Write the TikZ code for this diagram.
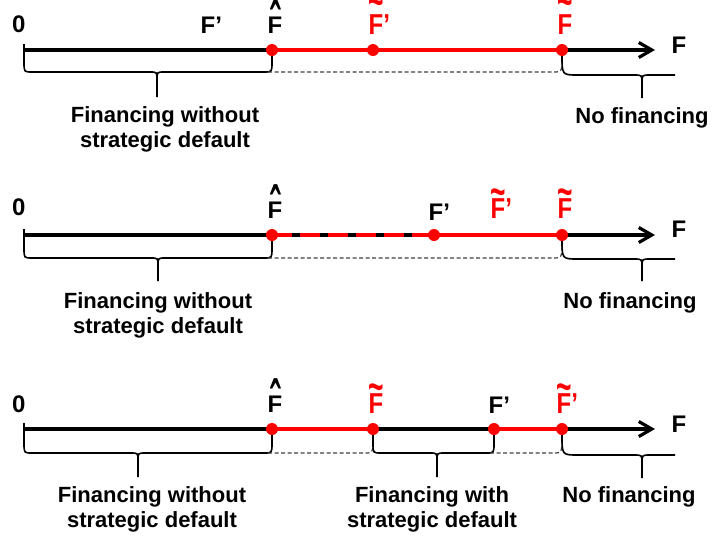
\documentclass[tikz,border=0pt]{standalone}
\usepackage{fontspec}
\setmainfont{Liberation Sans}
\usepackage{graphicx}
\usetikzlibrary{arrows.meta}

\newcommand{\hatF}{\ooalign{F\cr\hidewidth\raisebox{-12pt}{\scalebox{1.25}[2.56]{\char"02C6}}\hidewidth\cr}}
\newcommand{\redF}[1][11.8pt]{\ooalign{\scalebox{1}[1.2]{F}\cr\hidewidth\raisebox{#1}{\scalebox{1.1}[1.8]{\char"7E}}\hidewidth\cr}}
\newcommand{\redap}{\scalebox{1}[1.2]{’}}

\newcommand{\mybrace}[7]{%
  \draw[brc] (#1,#2) -- (#1,#6-10) .. controls (#1,#6) .. (#1+8,#6) -- (#5-7,#6) .. controls (#5,#6) .. (#5,#6+8) -- (#5,#7);
  \draw[brc] (#3,#4) -- (#3,#6-10) .. controls (#3,#6) .. (#3-8,#6) -- (#5+7,#6) .. controls (#5,#6) .. (#5,#6+8);
}
\newcommand{\nfbrace}[2]{% #1 ybot, #2 ytip ; starts below the last dot
  \draw[brc] (562,#1-20) .. controls (562,#1) .. (578,#1) -- (634,#1) .. controls (642,#1) .. (642,#1+8) -- (642,#2);
  \draw[brc] (675,#1) -- (650,#1) .. controls (642,#1) .. (642,#1+8);
}

\tikzset{
  lbl/.style={anchor=base west, inner sep=0pt, font=\fontsize{24}{28}\selectfont\bfseries},
  rlbl/.style={lbl, text=red},
  txt/.style={align=center, inner sep=0pt, anchor=base, font=\fontsize{22}{24.5}\selectfont\bfseries},
  axis/.style={line width=3.2pt},
  arr/.style={line width=3.2pt, -{Straight Barb[length=13pt,width=15pt]}},
  redseg/.style={line width=3.2pt, red},
  reddash/.style={line width=3.2pt, red, dash pattern=on 20pt off 8pt},
  dot/.style={circle, fill=red, inner sep=0pt, minimum size=12pt},
  brc/.style={line width=1.6pt},
  dsh/.style={line width=1.2pt, dash pattern=on 4pt off 2.5pt, black!75},
}

\begin{document}
\begin{tikzpicture}[x=1pt,y=-1pt]
\useasboundingbox (0,0) rectangle (712,539);

% ---------------- Panel 1 ----------------
\coordinate (s1) at (24,50);
\coordinate (h1) at (272,50);
\coordinate (tp1) at (373,50);
\coordinate (t1) at (562,50);
\coordinate (e1) at (655,50);
\draw[axis] (s1) -- (h1);
\draw[redseg] (h1) -- (t1);
\draw[arr] (t1) -- (e1);
\mybrace{24}{44}{272}{55}{157}{72}{97}
\draw[dsh] (268,72) -- (553,72) .. controls (562,72) .. (562,56);
\nfbrace{75}{98}
\node[dot] (dh1) at (h1) {};
\node[dot] (dtp1) at (tp1) {};
\node[dot] (dt1) at (t1) {};
\node[lbl] (z1) at (12,32) {0};
\node[lbl] (fp1) at (200.5,33) {F’};
\node[lbl] (fh1) at (267.5,33) {\hatF};
\node[rlbl] (ftp1) at (368.5,34) {\redF[17.8pt]\redap};
\node[rlbl] (ft1) at (557.5,34) {\redF[17.8pt]};
\node[lbl] (fa1) at (671.5,53) {F};
\node[txt] (w1) at (165,147) {Financing without\\strategic default};
\node[txt] (n1) at (642,123) {No financing};

% ---------------- Panel 2 ----------------
\coordinate (s2) at (24,235);
\coordinate (h2) at (272,235);
\coordinate (p2) at (434,235);
\coordinate (t2) at (562,235);
\coordinate (e2) at (655,235);
\draw[arr] (s2) -- (e2);
\draw[reddash] (h2) -- (p2);
\draw[redseg] (p2) -- (t2);
\mybrace{24}{229}{272}{240}{158}{258}{281}
\draw[dsh] (268,258) -- (553,258) .. controls (562,258) .. (562,241);
\nfbrace{259}{281}
\node[dot] (dh2) at (h2) {};
\node[dot] (dp2) at (p2) {};
\node[dot] (dt2) at (t2) {};
\node[lbl] (z2) at (12,215) {0};
\node[lbl] (fh2) at (267.5,218) {\hatF};
\node[lbl] (fp2) at (428.5,220) {F’};
\node[rlbl] (ftp2) at (490.5,218) {\redF\redap};
\node[rlbl] (ft2) at (557.5,218) {\redF};
\node[lbl] (fa2) at (671.5,237) {F};
\node[txt] (w2) at (158,333) {Financing without\\strategic default};
\node[txt] (n2) at (630,308) {No financing};

% ---------------- Panel 3 ----------------
\coordinate (s3) at (24,429);
\coordinate (h3) at (272,429);
\coordinate (t3) at (373,429);
\coordinate (p3) at (494,429);
\coordinate (tp3) at (562,429);
\coordinate (e3) at (655,429);
\draw[arr] (s3) -- (e3);
\draw[redseg] (h3) -- (t3);
\draw[redseg] (p3) -- (tp3);
\mybrace{24}{423}{272}{434}{138}{453}{477}
\draw[dsh] (268,453) -- (365,453) .. controls (373,453) .. (373,435);
\mybrace{373}{434}{494}{434}{437}{453}{477}
\draw[dsh] (490,453) -- (553,453) .. controls (562,453) .. (562,435);
\nfbrace{455}{478}
\node[dot] (dh3) at (h3) {};
\node[dot] (dt3) at (t3) {};
\node[dot] (dp3) at (p3) {};
\node[dot] (dtp3) at (tp3) {};
\node[lbl] (z3) at (12,412) {0};
\node[lbl] (fh3) at (267.5,412) {\hatF};
\node[rlbl] (ft3) at (368.5,413) {\redF};
\node[lbl] (fp3) at (488.5,413) {F’};
\node[rlbl] (ftp3) at (556.5,413) {\redF\redap};
\node[lbl] (fa3) at (671.5,432) {F};
\node[txt] (w3) at (152,527) {Financing without\\strategic default};
\node[txt] (ws3) at (432,527) {Financing with\\strategic default};
\node[txt] (n3) at (629,502) {No financing};
\end{tikzpicture}
\end{document}
